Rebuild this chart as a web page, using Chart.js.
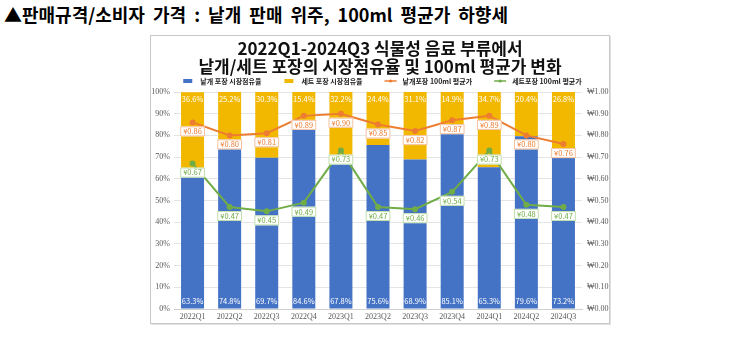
<!DOCTYPE html>
<html>
<head>
<meta charset="utf-8">
<script src="https://cdn.jsdelivr.net/npm/chart.js@4"></script>
<style>
body { margin: 0; background: #fff; width: 750px; height: 339px; overflow: hidden; position: relative; }
#headline { position: absolute; left: 4px; top: 1px; font: bold 18px "Noto Sans CJK KR", sans-serif; word-spacing: 4px; color: #000; white-space: nowrap; }
#box { position: absolute; left: 150px; top: 35px; width: 458px; height: 287px; border: 1px solid #c8c8c8; box-shadow: 1px 1px 0 #e2e2e2; background: #fff; }
</style>
</head>
<body>
<div id="headline">▲판매규격/소비자 가격 : 낱개 판매 위주, 100ml 평균가 하향세</div>
<div id="box"><canvas id="shareChart" width="458" height="287"></canvas></div>
<script>
const quarters = ['2022Q1', '2022Q2', '2022Q3', '2022Q4', '2023Q1', '2023Q2', '2023Q3', '2023Q4', '2024Q1', '2024Q2', '2024Q3'];
const singleShare = [63.3, 74.8, 69.7, 84.6, 67.8, 75.6, 68.9, 85.1, 65.3, 79.6, 73.2];
const setShare = [36.6, 25.2, 30.3, 15.4, 32.2, 24.4, 31.1, 14.9, 34.7, 20.4, 26.8];
const singlePrice = [0.86, 0.80, 0.81, 0.89, 0.90, 0.85, 0.82, 0.87, 0.89, 0.80, 0.76];
const setPrice = [0.67, 0.47, 0.45, 0.49, 0.73, 0.47, 0.46, 0.54, 0.73, 0.48, 0.47];

const BLUE = '#4472C4';
const GOLD = '#F2B800';
const ORANGE = '#ED7D31';
const GREEN = '#70AD47';
const KR = '"Noto Sans CJK KR", sans-serif';

const legendItems = [
  { text: '낱개 포장 시장점유율', color: BLUE, type: 'box' },
  { text: '세트 포장 시장점유율', color: GOLD, type: 'box' },
  { text: '낱개포장 100ml 평균가', color: ORANGE, type: 'line' },
  { text: '세트포장 100ml 평균가', color: GREEN, type: 'line' }
];

// labels on bars and points, plus the legend row
const labelPlugin = {
  id: 'labelPlugin',
  afterDatasetsDraw(chart) {
    const ctx = chart.ctx;
    ctx.save();
    ctx.textAlign = 'center';
    ctx.textBaseline = 'middle';
    ctx.font = '7.5px ' + KR;
    ctx.fillStyle = '#fff';
    chart.getDatasetMeta(0).data.forEach((bar, i) => {
      ctx.fillText(singleShare[i].toFixed(1) + '%', bar.x, bar.base - 7);
    });
    chart.getDatasetMeta(1).data.forEach((bar, i) => {
      ctx.fillText(setShare[i].toFixed(1) + '%', bar.x, bar.y + 7);
    });

    const lines = [[2, singlePrice, ORANGE, '#f6c3a2'], [3, setPrice, GREEN, '#c2dfae']];
    lines.forEach(([idx, vals, color, edge]) => {
      chart.getDatasetMeta(idx).data.forEach((pt, i) => {
        const txt = '¥' + vals[i].toFixed(2);
        const w = ctx.measureText(txt).width + 6;
        const h = 10;
        const cy = pt.y + 9;
        ctx.fillStyle = '#fff';
        ctx.fillRect(pt.x - w / 2, cy - h / 2, w, h);
        ctx.strokeStyle = edge;
        ctx.lineWidth = 1;
        ctx.strokeRect(pt.x - w / 2 + 0.5, cy - h / 2 + 0.5, w - 1, h - 1);
        ctx.fillStyle = color;
        ctx.fillText(txt, pt.x, cy);
      });
    });

    // legend
    ctx.font = 'bold 7px ' + KR;
    ctx.textAlign = 'left';
    const gap = 22;
    const sym = 12;
    let total = 0;
    legendItems.forEach(it => { total += sym + 6 + ctx.measureText(it.text).width; });
    total += gap * (legendItems.length - 1);
    let x = (chart.width - total) / 2 + 2;
    const y = 45;
    legendItems.forEach(it => {
      if (it.type === 'box') {
        ctx.fillStyle = it.color;
        ctx.fillRect(x + 1, y - 2, 9, 4);
      } else {
        ctx.strokeStyle = it.color;
        ctx.lineWidth = 1.5;
        ctx.beginPath();
        ctx.moveTo(x, y);
        ctx.lineTo(x + sym, y);
        ctx.stroke();
        ctx.fillStyle = it.color;
        ctx.beginPath();
        ctx.arc(x + sym / 2, y, 1.6, 0, Math.PI * 2);
        ctx.fill();
      }
      ctx.fillStyle = '#222';
      ctx.fillText(it.text, x + sym + 6, y + 0.5);
      x += sym + 6 + ctx.measureText(it.text).width + gap;
    });
    ctx.restore();
  }
};

const tickFont = { family: '"Liberation Serif", serif', size: 8 };

new Chart(document.getElementById('shareChart').getContext('2d'), {
  type: 'bar',
  data: {
    labels: quarters,
    datasets: [{
      label: '낱개 포장 시장점유율',
      data: singleShare,
      backgroundColor: BLUE,
      stack: 's',
      yAxisID: 'y',
      order: 1
    }, {
      label: '세트 포장 시장점유율',
      data: setShare,
      backgroundColor: GOLD,
      stack: 's',
      yAxisID: 'y',
      order: 1
    }, {
      type: 'line',
      label: '낱개포장 100ml 평균가',
      data: singlePrice,
      borderColor: ORANGE,
      backgroundColor: ORANGE,
      borderWidth: 2,
      pointRadius: 2,
      yAxisID: 'y1',
      order: 0
    }, {
      type: 'line',
      label: '세트포장 100ml 평균가',
      data: setPrice,
      borderColor: GREEN,
      backgroundColor: GREEN,
      borderWidth: 2,
      pointRadius: 2,
      yAxisID: 'y1',
      order: 0
    }]
  },
  options: {
    responsive: false,
    animation: false,
    layout: { padding: 0 },
    datasets: { bar: { categoryPercentage: 1, barPercentage: 0.62 } },
    plugins: {
      legend: { display: false },
      tooltip: { enabled: false },
      title: {
        display: true,
        text: ['2022Q1-2024Q3 식물성 음료 부류에서', '낱개/세트 포장의 시장점유율 및 100ml 평균가 변화'],
        color: '#111',
        font: { family: KR, size: 17, weight: 'bold', lineHeight: 1.05 },
        padding: { top: 3.5, bottom: 16.8 }
      }
    },
    scales: {
      x: {
        stacked: true,
        grid: { display: false, drawTicks: false },
        border: { color: '#d0d0d0' },
        ticks: { color: '#595959', font: tickFont, padding: 3, maxRotation: 0 },
        afterFit: (s) => { s.height = 14; }
      },
      y: {
        stacked: true,
        min: 0,
        max: 100,
        grid: { color: '#e4e4e4', drawTicks: false },
        border: { display: false },
        ticks: { stepSize: 10, color: '#595959', font: tickFont, padding: 4, callback: (v) => v + '%' },
        afterFit: (s) => { s.width = 23; }
      },
      y1: {
        position: 'right',
        min: 0,
        max: 1,
        grid: { display: false, drawTicks: false },
        border: { display: false },
        ticks: { stepSize: 0.1, color: '#595959', font: tickFont, padding: 5, callback: (v) => '₩' + v.toFixed(2) },
        afterFit: (s) => { s.width = 27; }
      }
    }
  },
  plugins: [labelPlugin]
});
</script>
</body>
</html>
